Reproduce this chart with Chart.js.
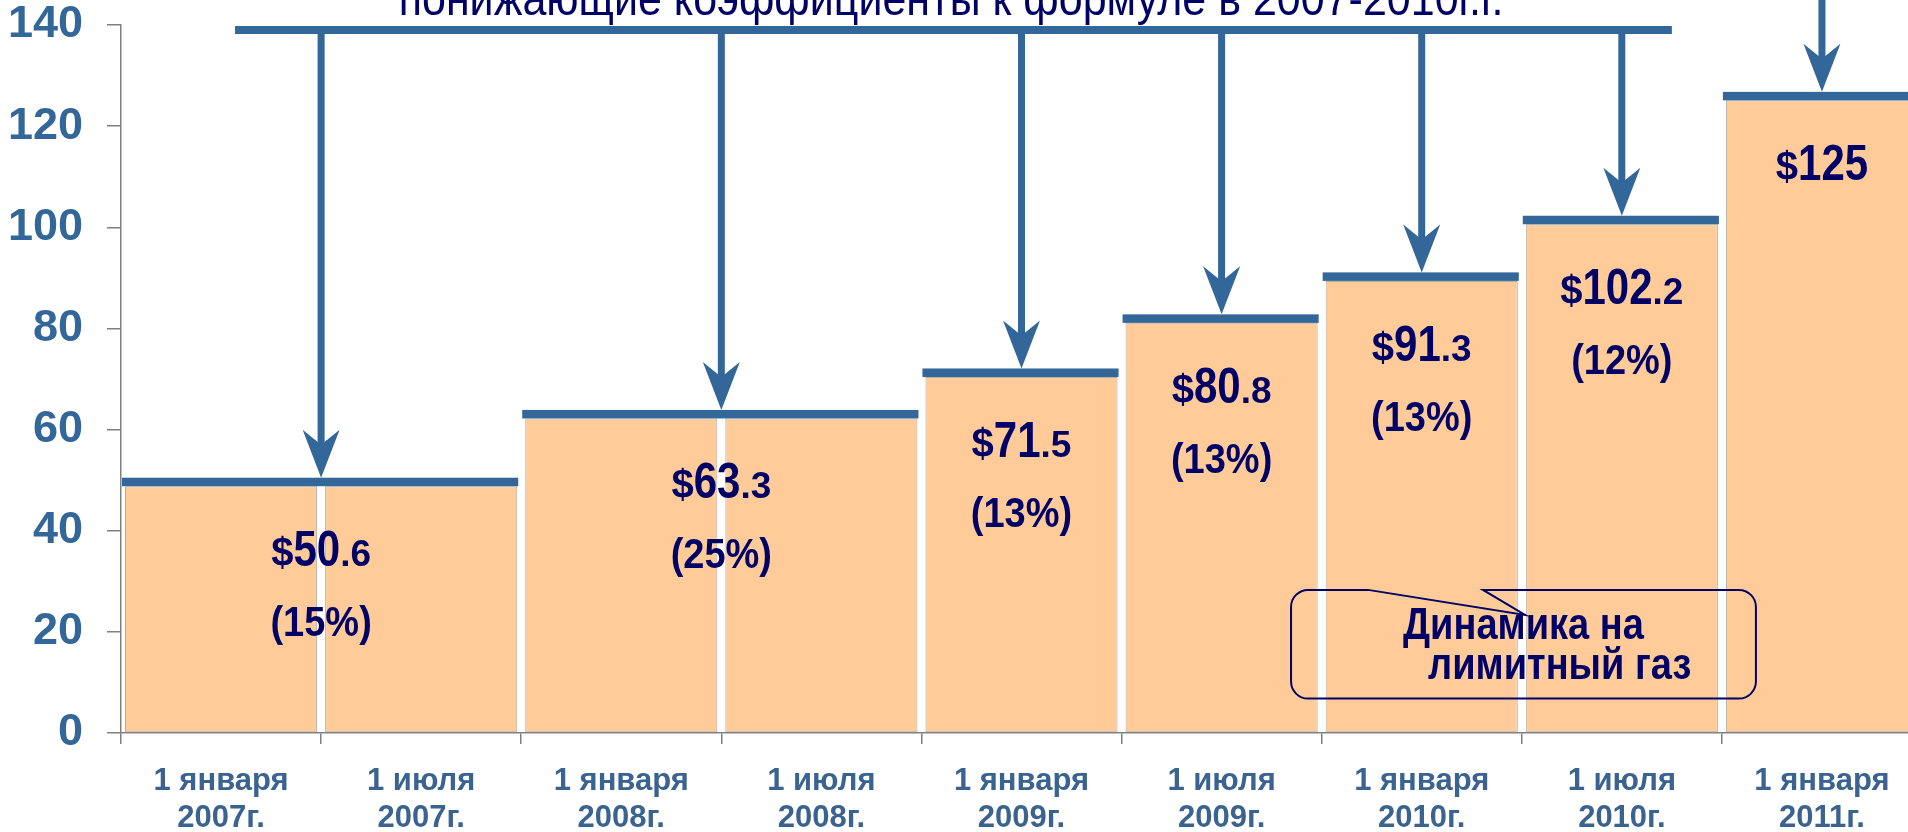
<!DOCTYPE html>
<html lang="ru">
<head>
<meta charset="utf-8">
<title>Цена на лимитный газ</title>
<script src="https://cdn.jsdelivr.net/npm/chart.js@4.4.1/dist/chart.umd.min.js"></script>
<style>
    html, body { margin: 0; padding: 0; background: #fff; overflow: hidden; }
    #wrap { position: absolute; left: 0; top: 0; width: 1922px; height: 832px; }
</style>
</head>
<body>
<div id="wrap"><canvas id="grafico"></canvas></div>
<script>
// даты пересмотра цены
const categories = [
    ['1 января', '2007г.'], ['1 июля', '2007г.'],
    ['1 января', '2008г.'], ['1 июля', '2008г.'],
    ['1 января', '2009г.'], ['1 июля', '2009г.'],
    ['1 января', '2010г.'], ['1 июля', '2010г.'],
    ['1 января', '2011г.']
];
// высота столбцов, как они нарисованы на слайде
const prices = [48.8, 48.8, 62.2, 62.2, 70.4, 81.1, 89.4, 100.6, 125.1];

// ступени цены: первая и последняя дата, подпись цены, прирост
const stepFirst = [0, 2, 4, 5, 6, 7, 8];
const stepLast = [1, 3, 4, 5, 6, 7, 8];
const stepLabel = ['50.6', '63.3', '71.5', '80.8', '91.3', '102.2', '125'];
const stepGrowth = ['(15%)', '(25%)', '(13%)', '(13%)', '(13%)', '(12%)', ''];

const titleText = 'понижающие коэффициенты к формуле в 2007-2010г.г.';
const boxLines = ['Динамика на', 'лимитный газ'];

const FONT = "'Liberation Sans', Arial, sans-serif";
const BLUE = '#336699';
const NAVY = '#000066';

document.addEventListener('DOMContentLoaded', () => {
    const ctx = document.getElementById('grafico').getContext('2d');

    const drawArrow = (c, cx, yFrom, tip) => {
        c.fillStyle = BLUE;
        c.fillRect(cx - 3.5, yFrom, 7, tip - 30 - yFrom);
        c.beginPath();
        c.moveTo(cx, tip);
        c.lineTo(cx - 18.5, tip - 48);
        c.lineTo(cx, tip - 33);
        c.lineTo(cx + 18.5, tip - 48);
        c.closePath();
        c.fill();
    };

    const drawPrice = (c, cx, base, label) => {
        const parts = label.split('.');
        const pieces = [
            { t: '$', f: `bold 40px ${FONT}`, s: 1.0 },
            { t: parts[0], f: `bold 42px ${FONT}`, s: 1.2 },
            { t: parts[1] ? '.' + parts[1] : '', f: `bold 37px ${FONT}`, s: 1.0 }
        ];
        let total = 0;
        pieces.forEach(p => { c.font = p.f; p.w = c.measureText(p.t).width; total += p.w; });
        c.save();
        c.fillStyle = NAVY;
        c.textBaseline = 'alphabetic';
        c.textAlign = 'left';
        let px = cx - total / 2;
        pieces.forEach(p => {
            c.save();
            c.translate(px, base);
            c.scale(1, p.s);
            c.font = p.f;
            c.fillText(p.t, 0, 0);
            c.restore();
            px += p.w;
        });
        c.restore();
    };

    const annotations = {
        id: 'annotations',
        afterDatasetsDraw(chart) {
            const c = chart.ctx;
            const { x, y } = chart.scales;
            const top = chart.chartArea.top;
            const bracketY = top + 1;

            // верхняя скоба
            c.fillStyle = BLUE;
            c.fillRect(x.getPixelForValue(0.07), bracketY, x.getPixelForValue(7.25) - x.getPixelForValue(0.07), 8);

            stepLabel.forEach((label, i) => {
                const left = x.getPixelForValue(stepFirst[i] - 0.5) + 1;
                const right = x.getPixelForValue(stepLast[i] + 0.5) - 3;
                const barTop = y.getPixelForValue(prices[stepFirst[i]]);
                const cx = x.getPixelForValue((stepFirst[i] + stepLast[i]) / 2);

                c.fillStyle = BLUE;
                c.fillRect(left, barTop - 8.5, right - left, 8.5);

                const from = i === stepLabel.length - 1 ? 0 : bracketY + 4;
                drawArrow(c, cx, from, barTop - 8.5);

                drawPrice(c, cx, barTop + 80, label);
                if (stepGrowth[i]) {
                    c.save();
                    c.font = `bold 38px ${FONT}`;
                    c.fillStyle = NAVY;
                    c.textAlign = 'center';
                    c.textBaseline = 'alphabetic';
                    c.translate(cx, barTop + 150);
                    c.scale(1, 1.1);
                    c.fillText(stepGrowth[i], 0, 0);
                    c.restore();
                }
            });

            // выноска
            const bl = x.getPixelForValue(5.347), br = x.getPixelForValue(7.67);
            const bt = y.getPixelForValue(28.3), bb = y.getPixelForValue(6.8);
            const r = 17;
            c.save();
            c.strokeStyle = NAVY;
            c.lineWidth = 2;
            c.beginPath();
            c.moveTo(bl + 77, bt);
            c.lineTo(bl + 234, bt + 25);
            c.lineTo(bl + 192, bt);
            c.lineTo(br - r, bt);
            c.arcTo(br, bt, br, bt + r, r);
            c.lineTo(br, bb - r);
            c.arcTo(br, bb, br - r, bb, r);
            c.lineTo(bl + r, bb);
            c.arcTo(bl, bb, bl, bb - r, r);
            c.lineTo(bl, bt + r);
            c.arcTo(bl, bt, bl + r, bt, r);
            c.closePath();
            c.stroke();
            c.fillStyle = NAVY;
            c.font = `bold 38px ${FONT}`;
            c.textAlign = 'left';
            c.textBaseline = 'alphabetic';
            [[112, 49], [137, 89]].forEach((o, k) => {
                c.save();
                c.translate(bl + o[0], bt + o[1]);
                c.scale(1, 1.15);
                c.fillText(boxLines[k], 0, 0);
                c.restore();
            });
            c.restore();

            // заголовок, обрезанный сверху
            c.save();
            c.fillStyle = NAVY;
            c.font = `43px ${FONT}`;
            c.textAlign = 'center';
            c.textBaseline = 'alphabetic';
            c.translate(951, 15);
            c.scale(1, 1.1);
            c.fillText(titleText, 0, 0);
            c.restore();
        }
    };

    new Chart(ctx, {
        type: 'bar',
        data: {
            labels: categories,
            datasets: [{
                data: prices,
                backgroundColor: '#FFCC99',
                borderColor: '#B4ACA4',
                borderWidth: 1,
                borderSkipped: false,
                barPercentage: 0.96,
                categoryPercentage: 1
            }]
        },
        options: {
            responsive: true,
            maintainAspectRatio: false,
            animation: false,
            layout: { padding: 0 },
            plugins: {
                legend: { display: false },
                tooltip: { enabled: false }
            },
            scales: {
                x: {
                    grid: { offset: true, drawOnChartArea: false, tickLength: 11, color: '#808080', lineWidth: 1.5 },
                    border: { color: '#808080', width: 1.5 },
                    ticks: {
                        color: '#3A6390',
                        font: { family: FONT, size: 31, weight: 'bold', lineHeight: 1.2 },
                        padding: 19,
                        maxRotation: 0,
                        autoSkip: false
                    },
                    afterFit: (s) => { s.height = 99; s.paddingLeft = 0; s.paddingRight = 0; }
                },
                y: {
                    min: 0,
                    max: 140,
                    grid: { drawOnChartArea: false, tickLength: 14, color: '#808080', lineWidth: 1.5 },
                    border: { color: '#808080', width: 1.5 },
                    ticks: {
                        stepSize: 20,
                        color: BLUE,
                        font: { family: FONT, size: 45, weight: 'bold' },
                        padding: 24
                    },
                    afterFit: (s) => { s.width = 121; s.paddingTop = 25; s.paddingBottom = 0; }
                }
            }
        },
        plugins: [annotations]
    });
});
</script>
</body>
</html>
